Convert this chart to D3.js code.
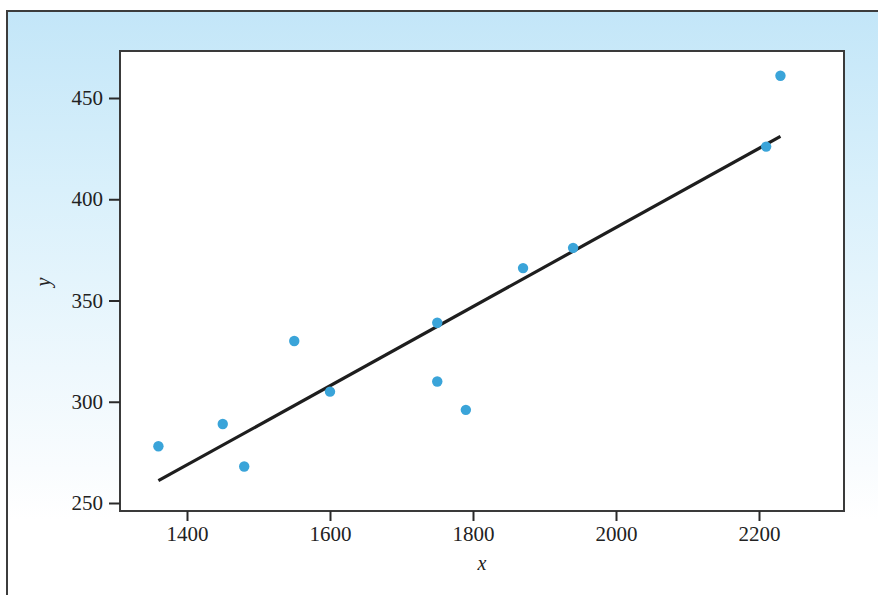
<!DOCTYPE html>
<html>
<head>
<meta charset="utf-8">
<script src="https://cdn.jsdelivr.net/npm/d3@7"></script>
<style>
  body { margin: 0; background: #fff; }
  svg { display: block; }
</style>
</head>
<body>
<div id="chart"></div>
<script>
// observed points
var xs = [1360, 1450, 1480, 1550, 1600, 1750, 1750, 1790, 1870, 1940, 2210, 2230];
var ys = [278, 289, 268, 330, 305, 339, 310, 296, 366, 376, 426, 461];

// fitted line at its two ends
var fitX = [1360, 2230];
var fitY = [261, 431];

var xTicks = [1400, 1600, 1800, 2000, 2200];
var yTicks = [250, 300, 350, 400, 450];

var w = 878,
    h = 595;

var svg = d3.select("#chart")
  .append("svg")
  .attr("width", w)
  .attr("height", h);

var defs = svg.append("defs");
var grad = defs.append("linearGradient")
  .attr("id", "bg")
  .attr("gradientUnits", "userSpaceOnUse")
  .attr("x1", 0).attr("y1", 11)
  .attr("x2", 0).attr("y2", 520);
grad.append("stop").attr("offset", "0").attr("stop-color", "#c3e6f8");
grad.append("stop").attr("offset", "0.35").attr("stop-color", "#d9f0fb");
grad.append("stop").attr("offset", "0.7").attr("stop-color", "#eef8fd");
grad.append("stop").attr("offset", "0.9").attr("stop-color", "#f9fcfe");
grad.append("stop").attr("offset", "1").attr("stop-color", "#ffffff");

// outer panel, runs off the right and bottom edge
svg.append("rect")
  .attr("x", 7).attr("y", 11)
  .attr("width", w + 20).attr("height", h + 20)
  .attr("fill", "url(#bg)")
  .attr("stroke", "#3c3c3c")
  .attr("stroke-width", 2);

var pl = 120, pt = 51, pr = 844, pb = 511;

var x = d3.scaleLinear().domain([1400, 2200]).range([187, 759]);
var y = d3.scaleLinear().domain([250, 450]).range([503, 98]);

svg.append("rect")
  .attr("x", pl).attr("y", pt)
  .attr("width", pr - pl).attr("height", pb - pt)
  .attr("fill", "#fff")
  .attr("stroke", "#3a3a3a")
  .attr("stroke-width", 2);

var xAxis = svg.append("g")
  .attr("transform", "translate(0," + pb + ")")
  .call(d3.axisBottom(x).tickValues(xTicks).tickSize(10).tickPadding(5).tickFormat(d3.format("d")));

var yAxis = svg.append("g")
  .attr("transform", "translate(" + pl + ",0)")
  .call(d3.axisLeft(y).tickValues(yTicks).tickSize(11).tickPadding(6).tickFormat(d3.format("d")));

[xAxis, yAxis].forEach(function(a) {
  a.select(".domain").remove();
  a.selectAll(".tick line").attr("stroke", "#2a2a2a").attr("stroke-width", 2);
  a.selectAll(".tick text")
    .attr("fill", "#222")
    .style("font-family", "'Liberation Serif', 'Times New Roman', serif")
    .style("font-size", "21px");
});

svg.append("text")
  .attr("x", 482).attr("y", 570)
  .attr("text-anchor", "middle")
  .style("font-family", "'Liberation Serif', serif")
  .style("font-style", "italic")
  .style("font-size", "20px")
  .attr("fill", "#222")
  .text("x");

svg.append("text")
  .attr("transform", "translate(50,282) rotate(-90)")
  .attr("text-anchor", "middle")
  .style("font-family", "'Liberation Serif', serif")
  .style("font-style", "italic")
  .style("font-size", "20px")
  .attr("fill", "#222")
  .text("y");

var line = d3.line()
  .x(function(d) { return x(d[0]); })
  .y(function(d) { return y(d[1]); });

svg.append("path")
  .datum(d3.zip(fitX, fitY))
  .attr("d", line)
  .attr("fill", "none")
  .attr("stroke", "#1e1e1e")
  .attr("stroke-width", 3.2);

svg.selectAll("circle")
  .data(d3.zip(xs, ys))
  .enter()
  .append("circle")
  .attr("cx", function(d) { return x(d[0]); })
  .attr("cy", function(d) { return y(d[1]); })
  .attr("r", 5.2)
  .attr("fill", "#3aa4d9");
</script>
</body>
</html>
